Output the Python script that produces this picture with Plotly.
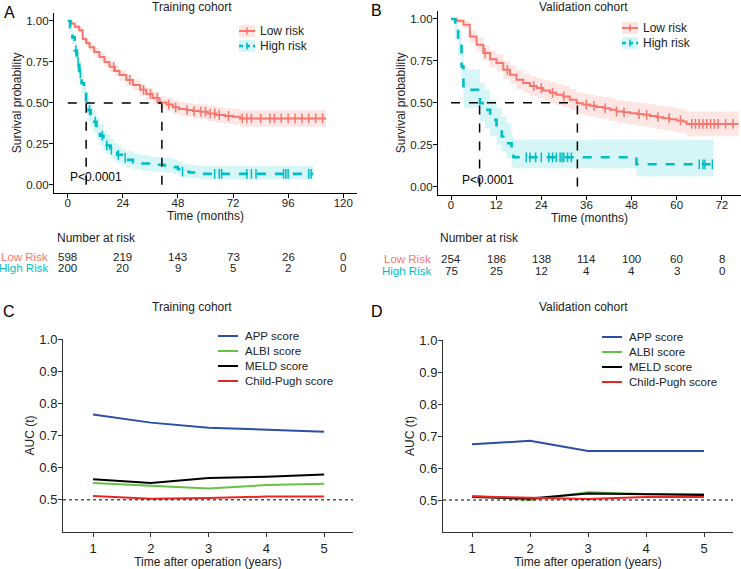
import numpy as np
import plotly.graph_objects as go

# ---------------- Data ----------------
# Panel A: training cohort KM
A_low_t = [0, 1.5, 3, 5, 6.5, 8, 9.5, 11.5, 13.8, 16, 18.2, 20.5, 22.5, 25.5, 28.4, 31.5, 34.2, 37, 40, 43,
           45.8, 48.5, 51.6, 54.5, 57.5, 61, 64.7, 68.5, 72, 75, 112.5]
A_low_s = [1.0, 0.985, 0.965, 0.943, 0.89, 0.865, 0.84, 0.81, 0.78, 0.75, 0.72, 0.695, 0.67, 0.64, 0.61, 0.58,
           0.555, 0.53, 0.502, 0.49, 0.473, 0.463, 0.456, 0.45, 0.446, 0.436, 0.426, 0.42, 0.416, 0.405, 0.405]
A_low_lo = [1.0, 0.975, 0.95, 0.925, 0.868, 0.842, 0.815, 0.783, 0.752, 0.72, 0.689, 0.663, 0.637, 0.606, 0.575,
            0.544, 0.518, 0.492, 0.463, 0.45, 0.432, 0.421, 0.413, 0.406, 0.401, 0.39, 0.379, 0.372, 0.367, 0.355, 0.355]
A_low_hi = [1.0, 0.995, 0.98, 0.961, 0.912, 0.888, 0.865, 0.837, 0.808, 0.78, 0.751, 0.727, 0.703, 0.674, 0.645,
            0.616, 0.592, 0.568, 0.541, 0.53, 0.514, 0.505, 0.499, 0.494, 0.491, 0.482, 0.473, 0.468, 0.465, 0.455, 0.455]
A_low_cens = [20, 27, 33, 36, 39, 44, 47, 52, 55, 58, 60, 62, 64, 66, 70, 76, 78, 80, 84, 88, 90, 93, 96, 99,
              102, 105, 108, 111]

A_high_t = [0, 1, 2, 3, 4, 5, 6, 7, 8, 9, 10, 11, 12.5, 14, 15.5, 17, 18.5, 20, 21.5, 23.5, 25.5, 28.4, 32, 36,
            42, 45.8, 48, 50, 53, 57.5, 106.9]
A_high_s = [1.0, 0.96, 0.90, 0.82, 0.75, 0.68, 0.62, 0.555, 0.495, 0.455, 0.42, 0.385, 0.34, 0.30, 0.265, 0.24,
            0.215, 0.195, 0.183, 0.165, 0.152, 0.138, 0.13, 0.122, 0.118, 0.108, 0.095, 0.08, 0.075, 0.067, 0.067]
A_high_lo = [1.0, 0.93, 0.86, 0.77, 0.69, 0.62, 0.56, 0.49, 0.43, 0.39, 0.355, 0.32, 0.28, 0.24, 0.21, 0.185,
             0.16, 0.145, 0.133, 0.118, 0.105, 0.093, 0.086, 0.079, 0.075, 0.066, 0.056, 0.044, 0.04, 0.033, 0.033]
A_high_hi = [1.0, 0.99, 0.94, 0.87, 0.81, 0.75, 0.69, 0.625, 0.565, 0.525, 0.49, 0.455, 0.41, 0.37, 0.33, 0.305,
             0.28, 0.255, 0.24, 0.22, 0.205, 0.19, 0.18, 0.17, 0.165, 0.155, 0.14, 0.125, 0.12, 0.115, 0.115]
A_high_cens = [3.5, 4.5, 5.5, 9.5, 12, 15, 17, 19, 22, 25, 50, 64, 66, 67, 78, 80, 82, 94, 95, 96, 105, 106]

A_medians = [8.0, 41.0]

# Panel B: validation cohort KM
B_low_t = [0, 1.5, 3.3, 5, 6.8, 8.6, 10.4, 12.1, 13.9, 15.7, 17.4, 19.2, 21, 22.8, 24.5, 26.3, 28, 29.8, 31.6,
           33.4, 35, 36.9, 38.7, 40.5, 42.3, 44, 45.8, 47.6, 49.4, 51.1, 52.9, 54.6, 56.4, 58.2, 60, 61.7, 62.6, 76.5]
B_low_s = [1.0, 0.99, 0.966, 0.896, 0.847, 0.797, 0.76, 0.737, 0.697, 0.667, 0.637, 0.618, 0.60, 0.588, 0.574,
           0.56, 0.548, 0.538, 0.518, 0.498, 0.49, 0.482, 0.475, 0.468, 0.458, 0.448, 0.443, 0.438, 0.433, 0.428,
           0.421, 0.414, 0.408, 0.402, 0.395, 0.388, 0.374, 0.374]
B_low_lo = [1.0, 0.978, 0.944, 0.859, 0.804, 0.75, 0.71, 0.686, 0.643, 0.612, 0.58, 0.56, 0.541, 0.528, 0.513,
            0.498, 0.486, 0.475, 0.455, 0.434, 0.425, 0.417, 0.409, 0.402, 0.391, 0.381, 0.375, 0.37, 0.364, 0.358,
            0.351, 0.344, 0.337, 0.33, 0.323, 0.315, 0.3, 0.3]
B_low_hi = [1.0, 1.0, 0.988, 0.933, 0.89, 0.844, 0.81, 0.788, 0.751, 0.722, 0.694, 0.676, 0.659, 0.648, 0.635,
            0.622, 0.61, 0.601, 0.581, 0.562, 0.555, 0.547, 0.541, 0.534, 0.525, 0.515, 0.511, 0.506, 0.502, 0.498,
            0.491, 0.484, 0.479, 0.474, 0.467, 0.461, 0.448, 0.448]
B_low_cens = [9, 15, 22, 24, 27, 30, 36, 38, 41, 44, 46, 50, 52, 55, 58, 61, 64, 65, 66, 67, 68, 69, 70, 71, 73, 75]

B_high_t = [0, 1.1, 1.9, 2.8, 3.3, 6.8, 7.7, 9.0, 10.4, 12.1, 13.5, 14.8, 16.1, 16.6, 49.3, 69.7]
B_high_s = [1.0, 0.936, 0.857, 0.717, 0.578, 0.578, 0.498, 0.458, 0.398, 0.349, 0.299, 0.259, 0.20, 0.175,
            0.133, 0.133]
B_high_lo = [1.0, 0.88, 0.78, 0.62, 0.47, 0.47, 0.39, 0.35, 0.30, 0.25, 0.21, 0.17, 0.12, 0.11, 0.06, 0.06]
B_high_hi = [1.0, 0.99, 0.93, 0.82, 0.70, 0.70, 0.62, 0.58, 0.52, 0.47, 0.42, 0.38, 0.31, 0.28, 0.28, 0.28]
B_high_cens = [20, 21, 22.5, 24, 26, 27, 28, 29, 29.5, 30, 31, 32, 66, 67, 67.5, 69.5]

B_medians = [7.6, 33.6]

# Number at risk
A_risk_times = [0, 24, 48, 72, 96, 120]
A_risk_low = [598, 219, 143, 73, 26, 0]
A_risk_high = [200, 20, 9, 5, 2, 0]
B_risk_times = [0, 12, 24, 36, 48, 60, 72]
B_risk_low = [254, 186, 138, 114, 100, 60, 8]
B_risk_high = [75, 25, 12, 4, 4, 3, 0]

# Panels C/D: time-dependent AUC
years = [1, 2, 3, 4, 5]
auc_names = ["APP score", "ALBI score", "MELD score", "Child-Pugh score"]
C_app = [0.765, 0.740, 0.724, 0.718, 0.712]
C_albi = [0.552, 0.544, 0.535, 0.546, 0.550]
C_meld = [0.564, 0.552, 0.568, 0.572, 0.579]
C_child = [0.512, 0.503, 0.506, 0.510, 0.510]
D_app = [0.674, 0.685, 0.653, 0.653, 0.653]
D_albi = [0.513, 0.500, 0.524, 0.519, 0.519]
D_meld = [0.509, 0.505, 0.520, 0.517, 0.516]
D_child = [0.511, 0.507, 0.503, 0.509, 0.509]

# ---------------- Styling ----------------
FONT = "Liberation Sans, Arial, Helvetica, sans-serif"
RED = "#F8766D"
TEAL = "#00BFC4"
RED_FILL = "rgba(248,118,109,0.18)"
TEAL_FILL = "rgba(0,191,196,0.16)"
AUC_COLORS = ["#2B4FA6", "#66C147", "#000000", "#E82626"]
W, H = 741, 569


def px_x(p):
    return p / W


def px_y(p):
    return 1 - p / H


def step_lookup(t, s, pts):
    t = np.asarray(t)
    s = np.asarray(s)
    idx = np.searchsorted(t, pts, side="right") - 1
    return s[idx]


fig = go.Figure()


def add_km(xa, ya, t, s, lo, hi, cens, color, fill, dash, name, width):
    fig.add_trace(go.Scatter(x=t, y=lo, mode="lines", line=dict(width=0, shape="hv"),
                             xaxis=xa, yaxis=ya, showlegend=False, hoverinfo="skip"))
    fig.add_trace(go.Scatter(x=t, y=hi, mode="lines", line=dict(width=0, shape="hv"), fill="tonexty",
                             fillcolor=fill, xaxis=xa, yaxis=ya, showlegend=False, hoverinfo="skip"))
    fig.add_trace(go.Scatter(x=t, y=s, mode="lines", line=dict(color=color, width=width, shape="hv", dash=dash),
                             xaxis=xa, yaxis=ya, name=name, showlegend=False))
    fig.add_trace(go.Scatter(x=cens, y=step_lookup(t, s, cens), mode="markers",
                             marker=dict(symbol="line-ns", size=7, line=dict(color=color, width=1.5)),
                             xaxis=xa, yaxis=ya, showlegend=False, hoverinfo="skip"))


add_km("x", "y", A_low_t, A_low_s, A_low_lo, A_low_hi, A_low_cens, RED, RED_FILL, "solid", "Low risk", 2)
add_km("x", "y", A_high_t, A_high_s, A_high_lo, A_high_hi, A_high_cens, TEAL, TEAL_FILL, "dash", "High risk", 2.6)
add_km("x2", "y2", B_low_t, B_low_s, B_low_lo, B_low_hi, B_low_cens, RED, RED_FILL, "solid", "Low risk", 2)
add_km("x2", "y2", B_high_t, B_high_s, B_high_lo, B_high_hi, B_high_cens, TEAL, TEAL_FILL, "dash", "High risk", 2.6)

for (xa, ya, series) in [("x3", "y3", [C_app, C_albi, C_meld, C_child]),
                         ("x4", "y4", [D_app, D_albi, D_meld, D_child])]:
    for name, col, vals in zip(auc_names, AUC_COLORS, series):
        fig.add_trace(go.Scatter(x=years, y=vals, mode="lines", name=name, showlegend=False,
                                 line=dict(color=col, width=2), xaxis=xa, yaxis=ya))

# median / reference lines
shapes = []
for xa, ya, meds in [("x", "y", A_medians), ("x2", "y2", B_medians)]:
    shapes.append(dict(type="line", xref=xa, yref=ya, x0=0, x1=max(meds), y0=0.5, y1=0.5,
                       line=dict(color="black", width=1.5, dash="dash")))
    for m in meds:
        shapes.append(dict(type="line", xref=xa, yref=ya, x0=m, x1=m, y0=0, y1=0.5,
                           line=dict(color="black", width=1.5, dash="dash")))
for xa, ya in [("x3", "y3"), ("x4", "y4")]:
    shapes.append(dict(type="line", xref=f"{xa} domain", yref=ya, x0=0, x1=1, y0=0.5, y1=0.5,
                       line=dict(color="black", width=1, dash="dot")))

ann = []
tf = dict(family=FONT, size=12, color="#222")

# ---- manual legends (legend keys + labels, paper coords) ----
for kl, kr, tx, rows in [(239, 255, 258, [31, 46]), (622, 638, 641, [28, 43])]:
    for (label, col, fill, dash, lw), yc in zip([("Low risk", RED, RED_FILL, "solid", 2),
                                                   ("High risk", TEAL, TEAL_FILL, "dash", 2.6)], rows):
        shapes.append(dict(type="rect", xref="paper", yref="paper", x0=px_x(kl), x1=px_x(kr),
                           y0=px_y(yc + 6), y1=px_y(yc - 6), fillcolor=fill, line=dict(width=0)))
        shapes.append(dict(type="line", xref="paper", yref="paper", x0=px_x(kl), x1=px_x(kr),
                           y0=px_y(yc), y1=px_y(yc), line=dict(color=col, width=lw,
                                                              dash="solid" if dash == "solid" else "4px,3px")))
        shapes.append(dict(type="line", xref="paper", yref="paper", x0=px_x((kl + kr) / 2), x1=px_x((kl + kr) / 2),
                           y0=px_y(yc + 3.5), y1=px_y(yc - 3.5), line=dict(color=col, width=1.5)))
        ann.append(dict(text=label, x=px_x(tx), y=px_y(yc), xref="paper", yref="paper", showarrow=False,
                        xanchor="left", yanchor="middle", font=dict(family=FONT, size=12, color="#222")))

for kl, kr, tx, rows in [(218, 238, 243, [336, 351, 366, 381]), (602, 622, 627, [337, 352, 367, 382])]:
    for name, col, yc in zip(auc_names, AUC_COLORS, rows):
        shapes.append(dict(type="line", xref="paper", yref="paper", x0=px_x(kl), x1=px_x(kr),
                           y0=px_y(yc), y1=px_y(yc), line=dict(color=col, width=2)))
        ann.append(dict(text=name, x=px_x(tx), y=px_y(yc), xref="paper", yref="paper", showarrow=False,
                        xanchor="left", yanchor="middle", font=dict(family=FONT, size=11.5, color="#222")))

# titles & letters
for text, xp, yp in [("Training cohort", 192, 7), ("Validation cohort", 583, 7),
                     ("Training cohort", 192, 307), ("Validation cohort", 583, 307)]:
    ann.append(dict(text=text, x=px_x(xp), y=px_y(yp), xref="paper", yref="paper", showarrow=False,
                    font=tf, xanchor="center", yanchor="middle"))
for text, xp, yp in [("A", 9, 13), ("B", 376, 11), ("C", 9, 311), ("D", 377, 311)]:
    ann.append(dict(text=text, x=px_x(xp), y=px_y(yp), xref="paper", yref="paper", showarrow=False,
                    font=dict(family=FONT, size=16, color="black"), xanchor="center", yanchor="middle"))
# p-values
ann.append(dict(text="P<0.0001", x=0, y=0.05, xref="x", yref="y", showarrow=False, xanchor="left",
                font=dict(family=FONT, size=12, color="black")))
ann.append(dict(text="P<0.0001", x=2.5, y=0.04, xref="x2", yref="y2", showarrow=False, xanchor="left",
                font=dict(family=FONT, size=12, color="black")))
# number at risk
for xa, times, lows, highs, head_x, lab_x, ylow, yhigh in [
        ("x", A_risk_times, A_risk_low, A_risk_high, 55, 50, 257, 268),
        ("x2", B_risk_times, B_risk_low, B_risk_high, 438, 433, 259, 271)]:
    ann.append(dict(text="Number at risk", x=px_x(head_x), y=px_y(238), xref="paper", yref="paper",
                    showarrow=False, xanchor="left", yanchor="middle", font=tf))
    ann.append(dict(text="Low Risk", x=px_x(lab_x), y=px_y(ylow), xref="paper", yref="paper", showarrow=False,
                    xanchor="right", yanchor="middle", font=dict(family=FONT, size=11.5, color=RED)))
    ann.append(dict(text="High Risk", x=px_x(lab_x), y=px_y(yhigh), xref="paper", yref="paper", showarrow=False,
                    xanchor="right", yanchor="middle", font=dict(family=FONT, size=11.5, color=TEAL)))
    for t, lv, hv in zip(times, lows, highs):
        ann.append(dict(text=str(lv), x=t, y=px_y(ylow), xref=xa, yref="paper", showarrow=False,
                        xanchor="center", yanchor="middle", font=dict(family=FONT, size=11.5, color="#222")))
        ann.append(dict(text=str(hv), x=t, y=px_y(yhigh), xref=xa, yref="paper", showarrow=False,
                        xanchor="center", yanchor="middle", font=dict(family=FONT, size=11.5, color="#222")))

km_axis = dict(showline=True, linecolor="black", linewidth=1.3, ticks="outside", ticklen=4, tickcolor="black",
               tickwidth=1.2, showgrid=False, zeroline=False, automargin=False,
               tickfont=dict(family=FONT, size=11.5, color="#222"))
auc_axis = dict(showline=True, linecolor="#333", linewidth=1, ticks="outside", ticklen=4, tickcolor="#333",
                tickwidth=1, showgrid=False, zeroline=False, automargin=False,
                tickfont=dict(family=FONT, size=13, color="#222"))
title_font = dict(family=FONT, size=12, color="#222")

fig.update_layout(
    width=W, height=H, margin=dict(l=0, r=0, t=0, b=0), paper_bgcolor="white", plot_bgcolor="white",
    showlegend=False,
    xaxis=dict(km_axis, domain=[px_x(54), px_x(357)], range=[-6, 126], tickvals=A_risk_times, anchor="y",
               ticklabelstandoff=-5, title=dict(text="Time (months)", font=title_font, standoff=2)),
    yaxis=dict(km_axis, domain=[px_y(193), px_y(12.8)], range=[-0.05, 1.05], tickvals=[0, 0.25, 0.5, 0.75, 1],
               tickformat=".2f", anchor="x", ticklabelstandoff=-2,
               title=dict(text="Survival probability", font=title_font, standoff=1)),
    xaxis2=dict(km_axis, domain=[px_x(438), 1.0], range=[-3.46, 77.1], tickvals=B_risk_times, anchor="y2",
                ticklabelstandoff=-5, title=dict(text="Time (months)", font=title_font, standoff=2)),
    yaxis2=dict(km_axis, domain=[px_y(195), px_y(10.6)], range=[-0.05, 1.05], tickvals=[0, 0.25, 0.5, 0.75, 1],
                tickformat=".2f", anchor="x2", ticklabelstandoff=-2,
                title=dict(text="Survival probability", font=title_font, standoff=1)),
    xaxis3=dict(auc_axis, domain=[px_x(63), px_x(353)], range=[0.48, 5.5], tickvals=years, anchor="y3",
                title=dict(text="Time after operation (years)", font=title_font, standoff=4)),
    yaxis3=dict(auc_axis, domain=[px_y(532), px_y(339)], range=[0.4, 1.0], tickvals=[0.5, 0.6, 0.7, 0.8, 0.9, 1.0],
                tickformat=".1f", anchor="x3", ticklabelstandoff=-2,
                title=dict(text="AUC (t)", font=title_font, standoff=2)),
    xaxis4=dict(auc_axis, domain=[px_x(443), px_x(733)], range=[0.5, 5.5], tickvals=years, anchor="y4",
                title=dict(text="Time after operation (years)", font=title_font, standoff=4)),
    yaxis4=dict(auc_axis, domain=[px_y(532), px_y(340)], range=[0.4, 1.0], tickvals=[0.5, 0.6, 0.7, 0.8, 0.9, 1.0],
                tickformat=".1f", anchor="x4", ticklabelstandoff=-2,
                title=dict(text="AUC (t)", font=title_font, standoff=2)),
    shapes=shapes, annotations=ann,
)

fig.write_html("out.html", config={"displayModeBar": False},
               post_script="document.body.style.margin='0px';document.body.style.overflow='hidden';")
